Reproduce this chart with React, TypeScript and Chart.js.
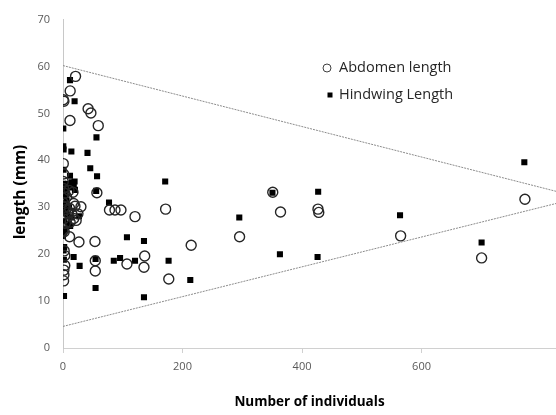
import React, { useEffect, useRef } from "react";
import { Chart, registerables } from "chart.js";

Chart.register(...registerables);

const seriesNames = ["Abdomen length", "Hindwing Length"];
const xTitle = "Number of individuals";
const yTitle = "length (mm)";
const xTickValues = [0, 200, 400, 600];
const xMax = 825;
const yMax = 70;

// [number of individuals, length (mm)]
const abdomen: number[][] = [
  [21, 57.9], [12, 54.8], [0.5, 52.9], [1.5, 52.6], [11.7, 48.5], [42, 51], [46.7, 50.1], [59, 47.4],
  [0.5, 39.3], [1, 37.1], [0.5, 35.5], [1, 34], [3, 33], [6, 32.2], [10, 33.6], [16.7, 33.2], [0, 31],
  [2, 30], [5, 29.5], [8, 28.8], [11, 29.8], [17.8, 30.8], [15, 28.5], [18, 27.6], [22, 27.2], [1, 27.5],
  [4, 26.6], [0, 25], [2, 24.8], [20, 30.2], [25, 28.6], [12, 26.8], [30, 30.1],
  [56.7, 33.1], [77.8, 29.4], [87, 29.4], [97, 29.4], [120.5, 28], [171.7, 29.6],
  [11, 23.7], [26.7, 22.6], [53.5, 22.7], [54, 18.6], [54, 16.4], [107, 17.9], [136.7, 19.6],
  [135.5, 17.2], [177, 14.7], [214.5, 21.9],
  [2, 20.7], [3, 19.7], [3, 17.6], [1.5, 16.6], [1.5, 15.6], [1, 14.3],
  [295.5, 23.7], [351, 33.2], [364, 29], [426.7, 29.6], [428, 28.9], [565, 23.9], [700.5, 19.2], [773, 31.7],
];

const hindwing: number[][] = [
  [11.7, 57.1], [19.4, 52.6], [0.5, 46.8], [56, 44.9], [0.5, 43], [1, 42.3], [14, 41.9], [41, 41.6],
  [45.6, 38.3], [1, 38], [57, 36.6], [11.7, 36.7], [19.4, 35.5],
  [0, 35], [2, 34.5], [5, 33.8], [8, 35], [12, 34.2], [15, 35.3], [18, 34.8], [20, 33.7], [3, 32.5],
  [6, 31.5], [1, 30.5], [10, 30], [4, 29.2], [7, 28.5], [14, 27.8], [2, 27], [9, 26.5], [12, 26],
  [3, 25.2], [1, 24.5], [0, 23.9],
  [171, 35.5], [55.5, 33.5], [77, 31], [26.7, 28.1], [107, 23.6], [135.5, 22.8], [17.8, 19.4],
  [1, 20.8], [2, 21.5], [1.5, 18.8], [54.5, 19], [85, 18.6], [95.5, 19.2], [120.5, 18.6],
  [176.7, 18.6], [27.8, 17.5], [54.5, 12.8], [135.5, 10.8], [213, 14.5], [1.7, 11.1],
  [295, 27.8], [350.5, 33.1], [427, 33.3], [363, 20], [426, 19.4], [564, 28.3], [700.5, 22.5], [772, 39.6],
];

// boundary lines (start and end at x = 0 and x = xMax)
const upperLine: number[][] = [[0, 60.2], [xMax, 33.4]];
const lowerLine: number[][] = [[0, 4.6], [xMax, 30.8]];

const toXY = (arr: number[][]) => arr.map(([x, y]) => ({ x, y }));

const FONT = "'Open Sans', 'Liberation Sans', sans-serif";

const legendPlugin = {
  id: "customLegend",
  afterDatasetsDraw(chart: any) {
    const ctx = chart.ctx;
    ctx.save();
    const lx = 327;
    const items = [
      { y: 68, style: "circle", label: seriesNames[0] },
      { y: 95, style: "rect", label: seriesNames[1] },
    ];
    items.forEach((it) => {
      if (it.style === "circle") {
        ctx.beginPath();
        ctx.arc(lx, it.y, 4, 0, Math.PI * 2);
        ctx.strokeStyle = "#404040";
        ctx.lineWidth = 1;
        ctx.stroke();
      } else {
        ctx.fillStyle = "#000";
        ctx.fillRect(lx + 0.5, it.y - 2.5, 5, 5);
      }
      ctx.fillStyle = "#262626";
      ctx.font = `14.5px ${FONT}`;
      ctx.textBaseline = "middle";
      ctx.textAlign = "left";
      ctx.fillText(it.label, 339, it.y);
    });
    // y-axis title
    ctx.translate(21, 192);
    ctx.rotate(-Math.PI / 2);
    ctx.fillStyle = "#000";
    ctx.font = `bold 15.5px ${FONT}`;
    ctx.textAlign = "center";
    ctx.textBaseline = "middle";
    ctx.fillText(yTitle, 0, 0);
    ctx.restore();
  },
};

export default function App() {
  const ref = useRef<HTMLCanvasElement>(null);
  useEffect(() => {
    document.body.style.margin = "0";
    const chart = new Chart(ref.current!, {
      type: "scatter",
      data: {
        datasets: [
          {
            label: "upper",
            type: "line",
            data: toXY(upperLine),
            borderColor: "#8c8c8c",
            borderWidth: 1,
            borderDash: [2, 1],
            pointRadius: 0,
            fill: false,
          } as any,
          {
            label: "lower",
            type: "line",
            data: toXY(lowerLine),
            borderColor: "#8c8c8c",
            borderWidth: 1,
            borderDash: [2, 1],
            pointRadius: 0,
            fill: false,
          } as any,
          {
            label: seriesNames[0],
            data: toXY(abdomen),
            pointStyle: "circle",
            pointRadius: 5,
            pointBorderWidth: 1.4,
            borderColor: "#262626",
            backgroundColor: "rgba(0,0,0,0)",
          },
          {
            label: seriesNames[1],
            data: toXY(hindwing),
            pointStyle: "rect",
            pointRadius: 4.3,
            pointBorderWidth: 0,
            borderColor: "#000",
            backgroundColor: "#000",
          },
        ],
      },
      options: {
        animation: false,
        responsive: false,
        layout: { autoPadding: false, padding: { top: 12, right: 0, left: 0, bottom: 0 } },
        plugins: { legend: { display: false }, tooltip: { enabled: false } },
        scales: {
          x: {
            type: "linear",
            min: 0,
            max: xMax,
            afterBuildTicks: (scale: any) => {
              scale.ticks = xTickValues.map((v) => ({ value: v }));
            },
            afterFit: (scale: any) => {
              scale.height = 67;
            },
            ticks: {
              color: "#595959",
              font: { family: FONT, size: 11 },
              padding: 7,
              maxRotation: 0,
            },
            grid: {
              drawOnChartArea: false,
              drawTicks: true,
              tickLength: 5,
              color: "#d0d0d0",
            },
            border: { display: true, color: "#d0d0d0", width: 1 },
            title: {
              display: true,
              text: xTitle,
              color: "#000",
              font: { family: FONT, size: 13.5, weight: "bold" },
              padding: { top: 0, bottom: 5 },
            },
          },
          y: {
            type: "linear",
            min: 0,
            max: yMax,
            ticks: {
              stepSize: 10,
              color: "#595959",
              font: { family: FONT, size: 11 },
              padding: 13,
            },
            afterFit: (scale: any) => {
              scale.width = 63;
            },
            grid: { display: false, drawTicks: false },
            border: { display: true, color: "#c8c8c8", width: 1 },
            title: { display: false },
          },
        },
      },
      plugins: [legendPlugin],
    });
    return () => chart.destroy();
  }, []);
  return (
    <div style={{ width: 556, height: 415 }}>
      <canvas ref={ref} width={556} height={415} style={{ display: "block" }} />
    </div>
  );
}
